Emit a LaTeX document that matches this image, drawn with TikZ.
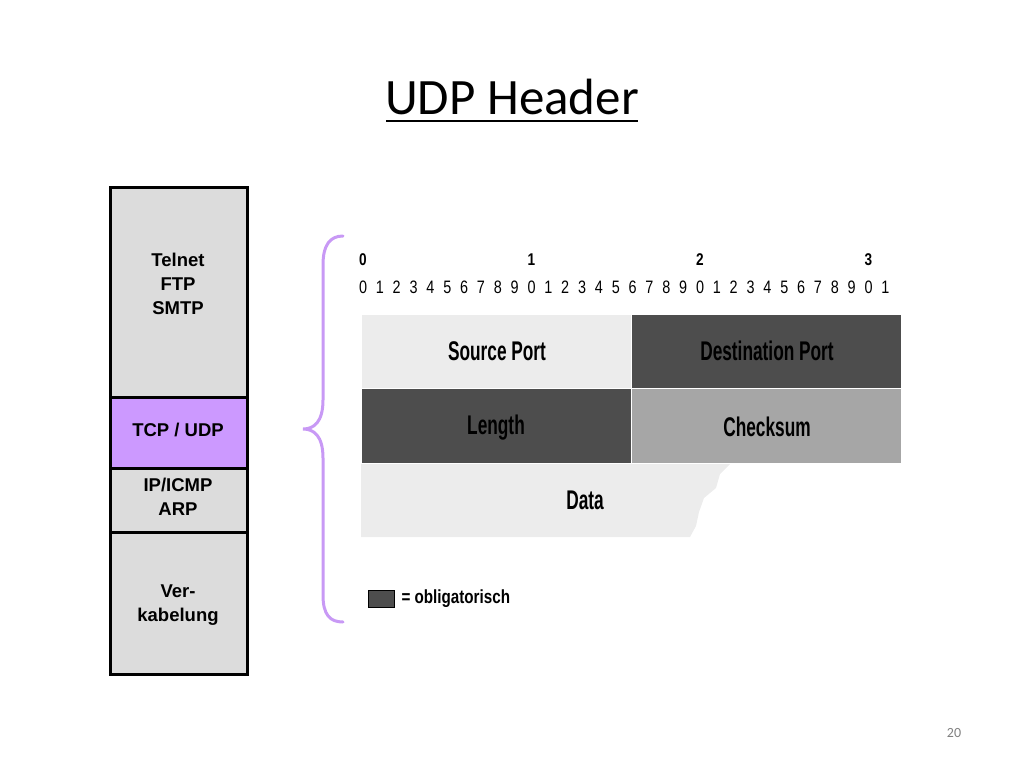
\documentclass[tikz,border=0pt]{standalone}
\usepackage{fontspec}
\setmainfont{Carlito}
\newfontfamily\arialfont{Liberation Sans}
\newfontfamily\narrowfont[FakeStretch=0.8]{Liberation Sans}
\newfontfamily\condfont[FakeStretch=0.64]{Liberation Sans}
\definecolor{layergray}{HTML}{DCDCDC}
\definecolor{layerpurple}{HTML}{CC99FF}
\definecolor{bracepurple}{HTML}{C899F5}
\definecolor{fieldlight}{HTML}{ECECEC}
\definecolor{fielddark}{HTML}{4D4D4D}
\definecolor{fieldmid}{HTML}{A6A6A6}
\tikzset{
  layer/.style={align=center,font=\arialfont\bfseries\fontsize{18.5}{24}\selectfont},
  field/.style={font=\condfont\bfseries\fontsize{27}{30}\selectfont},
  bitnum/.style={font=\narrowfont\fontsize{18}{20}\selectfont},
}
\begin{document}
\begin{tikzpicture}[x=1pt,y=-1pt]
\useasboundingbox (0,0) rectangle (1024,768);
% title
\node (title) at (512,97) {\fontsize{51}{60}\selectfont UDP Header};
\draw [line width=2pt] (386,121) -- (638,121);
\node[text=gray] (page) at (954,733) {\fontsize{14}{16}\selectfont 20};
% protocol stack
\draw [fill=layergray] (110,187) rectangle (247,397);
\draw [fill=layerpurple] (110,397) rectangle (247,468);
\draw [fill=layergray] (110,468) rectangle (247,532);
\draw [fill=layergray] (110,532) rectangle (247,674);
\draw [line width=3pt] (110,187) rectangle (247,674);
\draw [line width=3pt] (110,397) -- (247,397);
\draw [line width=3pt] (110,468) -- (247,468);
\draw [line width=3pt] (110,532) -- (247,532);
\node[layer] (app) at (178,284) {Telnet\\FTP\\SMTP};
\node[layer] (trans) at (178,430) {TCP / UDP};
\node[layer] (net) at (178,497) {IP/ICMP\\ARP};
\node[layer] (phys) at (178,605) {Ver-\\kabelung};
% brace
\draw [bracepurple,line width=3pt,line cap=round] (343,236)
  .. controls (330,236) and (323,245) .. (323,265) -- (323,400)
  .. controls (323,422) and (314,429) .. (303,429)
  .. controls (314,429) and (323,436) .. (323,458) -- (323,595)
  .. controls (323,615) and (330,622) .. (343,622);
% bit ruler
\foreach \t in {0,1,2,3}
  \node[bitnum,font=\narrowfont\bfseries\fontsize{17}{20}\selectfont] (tens\t) at (363+168.5*\t,260) {\t};
\foreach \i in {0,...,31}{
  \pgfmathtruncatemacro{\d}{mod(\i,10)}
  \node[bitnum] (bit\i) at (363+16.85*\i,287) {\d};
}
% header fields
\draw [fill=fieldlight,draw=white] (361,314) rectangle (631,388);
\draw [fill=fielddark,draw=white] (631,314) rectangle (901,388);
\draw [fill=fielddark,draw=white] (361,388) rectangle (631,463);
\draw [fill=fieldmid,draw=white] (631,388) rectangle (901,463);
\fill [fieldlight] (361,464) -- (730,464) -- (720,474) -- (716,488) -- (704,498)
  -- (699,512) -- (696,526) -- (690,537) -- (361,537) -- cycle;
\node[field] (src) at (497,351) {Source Port};
\node[field] (dst) at (767,351) {Destination Port};
\node[field] (len) at (496,428) {Length};
\node[field] (chk) at (767,427) {Checksum};
\node[field] (data) at (585,500) {Data};
% legend
\draw [fill=fielddark] (368,590) rectangle (394,607);
\node[anchor=west,font=\narrowfont\bfseries\fontsize{19}{22}\selectfont,xscale=1] (legend) at (398,599) {= obligatorisch};
\end{tikzpicture}
\end{document}
